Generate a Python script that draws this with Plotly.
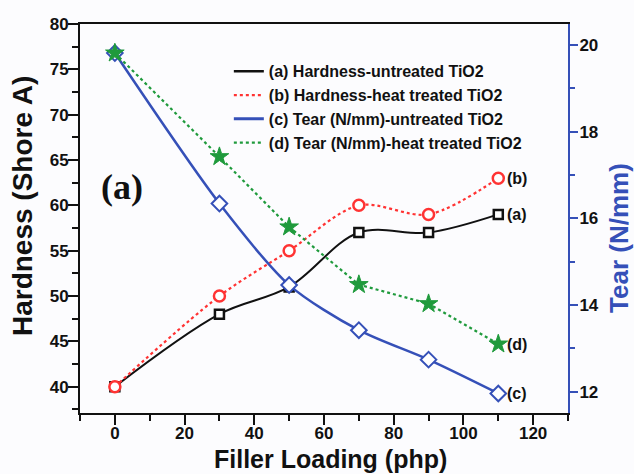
import plotly.graph_objects as go

# ---------------- data ----------------
filler = [0, 30, 50, 70, 90, 110]
hard_untreated = [40, 48, 51, 57, 57, 59]
hard_heat = [40, 50, 55, 60, 59, 63]
tear_untreated = [19.81, 16.34, 14.46, 13.42, 12.74, 11.96]
tear_heat = [19.81, 17.42, 15.80, 14.47, 14.03, 13.10]

legend_names = [
    "(a) Hardness-untreated TiO2",
    "(b) Hardness-heat treated TiO2",
    "(c) Tear (N/mm)-untreated TiO2",
    "(d) Tear (N/mm)-heat treated TiO2",
]
end_labels = ["(a)", "(b)", "(c)", "(d)"]

BLACK = "#111111"
RED = "#ff3333"
BLUE = "#3550b8"
GREEN = "#1f9a3c"
FONT = "Liberation Sans, Arial, sans-serif"

fig = go.Figure()

# data traces
fig.add_trace(go.Scatter(
    x=filler, y=hard_untreated, mode="lines+markers", showlegend=False,
    line=dict(color=BLACK, width=2, shape="spline", smoothing=1.0),
    marker=dict(symbol="square", size=9, color="white", line=dict(color=BLACK, width=2.5)),
))
fig.add_trace(go.Scatter(
    x=filler, y=hard_heat, mode="lines+markers", showlegend=False,
    line=dict(color=RED, width=2.2, dash="dot", shape="spline", smoothing=0.9),
    marker=dict(symbol="circle", size=11, color="white", line=dict(color=RED, width=2.5)),
))
fig.add_trace(go.Scatter(
    x=filler, y=tear_untreated, mode="lines+markers", showlegend=False, yaxis="y2",
    line=dict(color=BLUE, width=2.5, shape="spline", smoothing=0.8),
    marker=dict(symbol="diamond", size=12, color="white", line=dict(color=BLUE, width=2)),
))
fig.add_trace(go.Scatter(
    x=filler, y=tear_heat, mode="lines+markers", showlegend=False, yaxis="y2",
    line=dict(color=GREEN, width=2.2, dash="dot"),
    marker=dict(symbol="star", size=14, color=GREEN, line=dict(color=GREEN, width=1)),
))

# legend-only traces (lines only)
for name, col, dash, w in zip(legend_names, [BLACK, RED, BLUE, GREEN],
                              ["solid", "dot", "solid", "dot"], [2.5, 2.2, 3, 2.2]):
    fig.add_trace(go.Scatter(x=[None], y=[None], mode="lines", name=name,
                             line=dict(color=col, dash=dash, width=w)))

annotations = []
# end labels
end_vals = [hard_untreated[-1], hard_heat[-1], tear_untreated[-1], tear_heat[-1]]
end_yref = ["y", "y", "y2", "y2"]
for lab, val, yr in zip(end_labels, end_vals, end_yref):
    annotations.append(dict(x=filler[-1], y=val, xref="x", yref=yr, text=lab,
                            showarrow=False, xanchor="left", xshift=7,
                            font=dict(family=FONT, size=16, color=BLACK, weight="bold")))
# panel label
annotations.append(dict(x=2, y=62, xref="x", yref="y", text="(a)", showarrow=False,
                        font=dict(family="Liberation Serif, Times New Roman, serif", size=36,
                                  color=BLACK, weight="bold")))
# axis titles
annotations.append(dict(x=0.513, y=0, xref="paper", yref="paper", yanchor="middle",
                        yshift=-46, text="Filler Loading (php)", showarrow=False,
                        font=dict(family=FONT, size=25, color=BLACK, weight="bold")))
annotations.append(dict(x=0, y=0.532, xref="paper", yref="paper", xanchor="center",
                        yanchor="middle", xshift=-58, textangle=-90,
                        text="Hardness (Shore A)", showarrow=False,
                        font=dict(family=FONT, size=28, color=BLACK, weight="bold")))
annotations.append(dict(x=1, y=0.45, xref="paper", yref="paper", xanchor="center",
                        yanchor="middle", xshift=51, textangle=-90,
                        text="Tear (N/mm)", showarrow=False,
                        font=dict(family=FONT, size=26, color=BLUE, weight="bold")))

tickfont = dict(family=FONT, size=17, color=BLACK, weight="bold")

fig.update_layout(
    width=634, height=474,
    margin=dict(l=80, r=66, t=24, b=61),
    paper_bgcolor="#fcfcfe", plot_bgcolor="#fcfcfe",
    annotations=annotations,
    legend=dict(x=0.305, y=0.922, xanchor="left", yanchor="top",
                bgcolor="rgba(0,0,0,0)", itemwidth=30, tracegroupgap=0,
                font=dict(family=FONT, size=16, color=BLACK, weight="bold")),
    xaxis=dict(range=[-10, 130], tick0=0, dtick=20, showgrid=False, zeroline=False,
               showline=True, linecolor=BLACK, linewidth=2, mirror=True,
               ticks="outside", ticklen=10, tickwidth=2, tickcolor=BLACK,
               ticklabelstandoff=-6, tickfont=tickfont,
               minor=dict(ticks="outside", dtick=10, ticklen=6, tickwidth=2, tickcolor=BLACK)),
    yaxis=dict(range=[37.1, 80], tick0=0, dtick=5, showgrid=False, zeroline=False,
               showline=True, linecolor=BLACK, linewidth=2,
               ticks="outside", ticklen=10, tickwidth=2, tickcolor=BLACK,
               ticklabelstandoff=-4, tickfont=tickfont,
               minor=dict(ticks="outside", dtick=2.5, ticklen=6, tickwidth=2, tickcolor=BLACK)),
    yaxis2=dict(range=[11.51, 20.48], tick0=0, dtick=2, overlaying="y", side="right",
                showgrid=False, zeroline=False,
                showline=True, linecolor=BLUE, linewidth=2,
                ticks="outside", ticklen=8, tickwidth=2, tickcolor=BLUE,
                ticklabelstandoff=-2, tickfont=tickfont,
                minor=dict(ticks="outside", dtick=1, ticklen=5, tickwidth=2, tickcolor=BLUE)),
)

fig.write_html("out.html")
